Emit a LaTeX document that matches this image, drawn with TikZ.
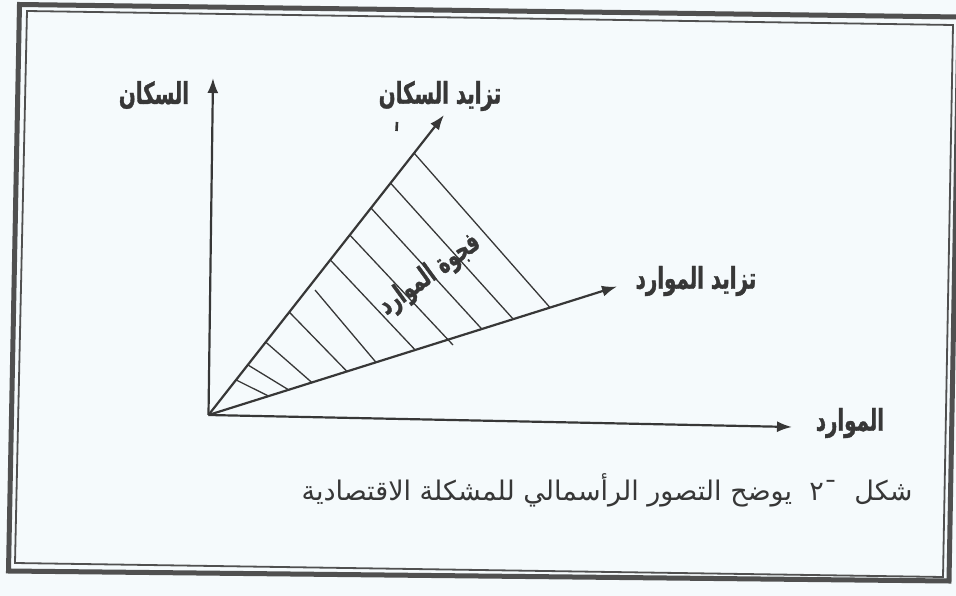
\documentclass[tikz,border=0pt]{standalone}
\usepackage{fontspec}
\usetikzlibrary{arrows.meta,calc}
\TeXXeTstate=1
\newfontfamily\arabicfont[Script=Arabic]{DejaVu Sans}
\newfontfamily\arabiccond[Script=Arabic,FakeStretch=0.66,FakeBold=1.2]{DejaVu Sans Bold}
\newcommand\labfont{\arabiccond\fontsize{30}{34}\selectfont}
\newcommand\gapfont{\arabiccond\fontsize{28}{31}\selectfont}
\newcommand\capfont{\arabicfont\fontsize{27}{31}\selectfont}
\definecolor{paper}{RGB}{245,250,252}
\definecolor{inkc}{RGB}{55,55,55}
\definecolor{framec}{RGB}{80,80,80}
\begin{document}
\begin{tikzpicture}[x=1pt,y=-1pt,
  ln/.style={draw=inkc, line width=2.2pt},
  axis/.style={ln, -{Latex[length=15pt,width=11pt]}},
  hatch/.style={draw=inkc, line width=1.3pt},
  lab/.style={text=inkc, font=\labfont, inner sep=0pt},
  captext/.style={text=inkc, font=\capfont, inner sep=0pt}]
\useasboundingbox (0,0) rectangle (956,596);
\fill[paper] (0,0) rectangle (956,596);
% frame
\draw[framec, line width=5pt, line join=miter] (19.5,4.5) -- (959,17) -- (949,581) -- (8.5,571) -- cycle;
\draw[framec, line width=1.8pt, line join=miter] (27,11) -- (953,25) -- (943,577) -- (15,563) -- cycle;
% points
\coordinate (O) at (208.5,415);
\coordinate (Yt) at (213,78);
\coordinate (Xt) at (792,427);
\coordinate (U) at (444,115);
\coordinate (L) at (617,286.5);
\coordinate (h5) at (315,290);
\coordinate (h7e) at (453,345);
% hatch lines
\foreach \t/\s in {0.117/0.147, 0.167/0.196, 0.243/0.253, 0.343/0.339, 0.517/0.506, 0.69/0.669, 0.773/0.746, 0.873/0.836}
  \draw[hatch] ($(O)!\t!(U)$) -- ($(O)!\s!(L)$);
\draw[hatch] (h5) -- ($(O)!0.41!(L)$);
\draw[hatch] ($(O)!0.6!(U)$) -- (h7e);
% axes and rays
\draw[axis] (O) -- (Yt);
\draw[axis] (O) -- (Xt);
\draw[axis] (O) -- (U);
\draw[axis] (O) -- (L);
% stray mark
\coordinate (m1) at (397,122);
\coordinate (m2) at (396.5,131);
\draw[inkc, line width=2.6pt] (m1) -- (m2);
% labels
\node[lab] (ypop) at (154,95) {\beginR السكان\endR};
\node[lab] (upop) at (440,96) {\beginR تزايد السكان\endR};
\node[lab] (ures) at (696,281) {\beginR تزايد الموارد\endR};
\node[lab] (xres) at (850,423) {\beginR الموارد\endR};
\node[lab, rotate=36, font=\gapfont] (gap) at (430,275) {\beginR فجوة الموارد\endR};
\node[captext] (capt) at (607,490) {\beginR شكل\ \ ¯٢\ \ يوضح التصور الرأسمالي للمشكلة الاقتصادية\endR};
\end{tikzpicture}
\end{document}
